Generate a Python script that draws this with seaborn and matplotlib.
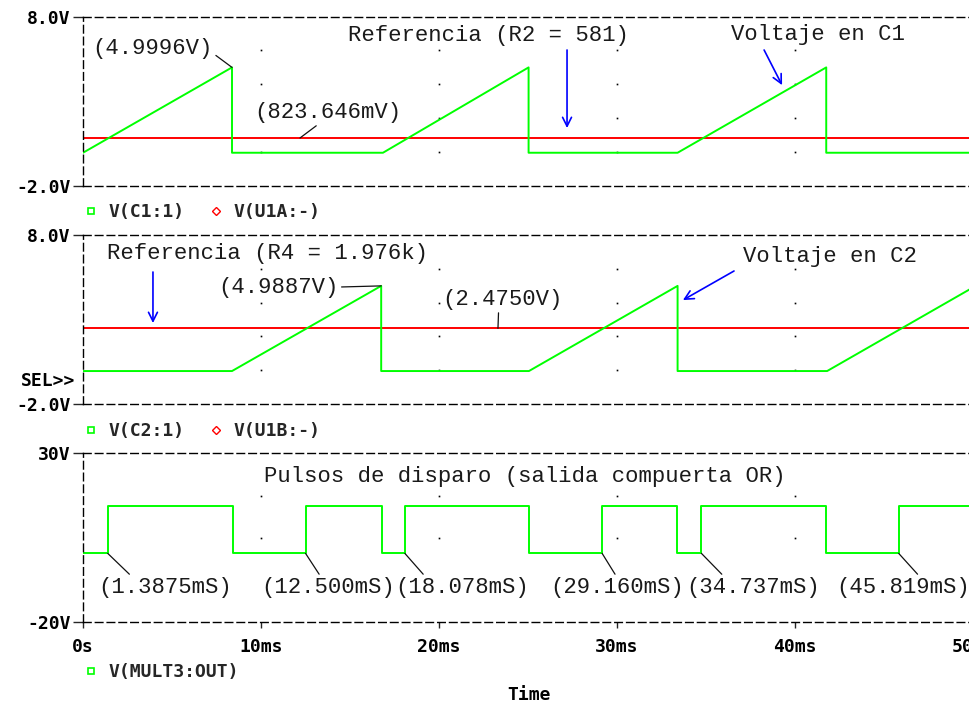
import matplotlib
matplotlib.use("Agg")
import matplotlib.pyplot as plt
from matplotlib.lines import Line2D
import seaborn as sns

# --- values (time in ms, volts) ---
c1_time = [0, 8.37, 8.37, 16.85, 25.03, 25.03, 33.40, 41.75, 41.75, 50.5]
c1_volt = [-0.05, 4.9996, -0.05, -0.05, 4.9996, -0.05, -0.05, 4.9996, -0.05, -0.05]
ref1 = 0.823646

c2_time = [0, 8.37, 16.75, 16.75, 25.05, 33.40, 33.40, 41.80, 50.0]
c2_volt = [-0.05, -0.05, 4.9887, -0.05, -0.05, 4.9887, -0.05, -0.05, 4.90]
ref2 = 2.4750

pulse_edges = [0, 1.3875, 8.40, 12.500, 16.78, 18.078, 25.05, 29.160, 33.38, 34.737, 41.75, 45.819, 50.5]
pulse_level = [0.4, 14.5, 0.4, 14.5, 0.4, 14.5, 0.4, 14.5, 0.4, 14.5, 0.4, 14.5, 14.5]
pulse_low = 0.4
rising = [1.3875, 12.500, 18.078, 29.160, 34.737, 45.819]
rising_labels = ["(1.3875mS)", "(12.500mS)", "(18.078mS)", "(29.160mS)", "(34.737mS)", "(45.819mS)"]

x_ticks = [0, 10, 20, 30, 40, 50]
x_ticklabels = ["0s", "10ms", "20ms", "30ms", "40ms", "50ms"]

GREEN = "#00ff00"
RED = "#ff0000"
BLUE = "#0000ff"
TXT = dict(family=["Liberation Mono", "DejaVu Sans Mono"], size=16, color="#1a1a1a")
BOLD = dict(family=["DejaVu Sans Mono"], size=13, weight="bold", color="black")
DASH = (0, (5.5, 3))

sns.set_style("white")
W, H = 969, 706
fig = plt.figure(figsize=(W / 100, H / 100), dpi=100)


def make_axes(top_px, ylim, yticklabels, dots_y):
    ax = fig.add_axes([83 / W, 1 - (top_px + 169) / H, 899 / W, 169 / H])
    ax.set_xlim(0, 50.5)
    ax.set_ylim(*ylim)
    for side in ["top", "bottom", "left"]:
        ax.spines[side].set_linestyle(DASH)
        ax.spines[side].set_linewidth(1.0)
        ax.spines[side].set_color("black")
    ax.spines["right"].set_visible(False)
    ax.set_yticks(list(ylim))
    ax.set_yticklabels(yticklabels, fontdict=BOLD)
    ax.tick_params(axis="y", direction="out", length=7, width=1, pad=2, left=True)
    ax.set_xticks([])
    # PSpice style grid dots
    for xv in x_ticks[1:-1]:
        ax.plot([xv] * len(dots_y), dots_y, ls="none", marker="s", ms=1.2, color="black", mew=0)
    ax.set_xlabel("")
    ax.set_ylabel("")
    return ax


leader = dict(arrowstyle="-", color="#111111", lw=0.9, shrinkA=0, shrinkB=0)
blue_arrow = dict(arrowstyle="->", color=BLUE, lw=1.2, mutation_scale=16, shrinkA=0, shrinkB=0)

# ---------------- panel 1: V(C1:1) ----------------
ax1 = make_axes(16.7, (-2, 8), ["-2.0V", "8.0V"], [0, 2, 4, 6])
ax1.axhline(ref1, color=RED, lw=1.4)
sns.lineplot(x=c1_time, y=c1_volt, estimator=None, sort=False, color=GREEN, lw=1.4, ax=ax1)
ax1.annotate("(4.9996V)", xy=(c1_time[1], c1_volt[1]), xytext=(3.9, 6.1),
             ha="center", va="center", arrowprops={**leader, "relpos": (1.0, 0.3)}, **TXT)
ax1.annotate("(823.646mV)", xy=(12.19, ref1), xytext=(13.76, 2.36),
             ha="center", va="center", arrowprops={**leader, "relpos": (0.45, 0.0)}, **TXT)
ax1.text(22.75, 6.86, "Referencia (R2 = 581)", ha="center", va="center", **TXT)
ax1.annotate("", xy=(27.19, 1.41), xytext=(27.19, 6.03), arrowprops=blue_arrow)
ax1.text(41.3, 6.92, "Voltaje en C1", ha="center", va="center", **TXT)
ax1.annotate("", xy=(39.27, 3.95), xytext=(38.26, 6.03), arrowprops=blue_arrow)

# ---------------- panel 2: V(C2:1) ----------------
ax2 = make_axes(235, (-2, 8), ["-2.0V", "8.0V"], [0, 2, 4, 6])
ax2.axhline(ref2, color=RED, lw=1.4)
sns.lineplot(x=c2_time, y=c2_volt, estimator=None, sort=False, color=GREEN, lw=1.4, ax=ax2)
ax2.text(10.39, 6.88, "Referencia (R4 = 1.976k)", ha="center", va="center", **TXT)
ax2.annotate("", xy=(3.93, 2.79), xytext=(3.93, 5.81), arrowprops=blue_arrow)
ax2.annotate("(4.9887V)", xy=(c2_time[2], c2_volt[2]), xytext=(10.96, 4.92),
             ha="center", va="center", arrowprops={**leader, "relpos": (1.0, 0.5)}, **TXT)
ax2.annotate("(2.4750V)", xy=(23.31, ref2), xytext=(23.55, 4.21),
             ha="center", va="center", arrowprops={**leader, "relpos": (0.47, 0.0)}, **TXT)
ax2.text(41.97, 6.7, "Voltaje en C2", ha="center", va="center", **TXT)
ax2.annotate("", xy=(33.7, 4.15), xytext=(36.57, 5.87), arrowprops=blue_arrow)
fig.text(75 / W, 1 - 381 / H, "SEL>>", ha="right", va="center", **BOLD)

# ---------------- panel 3: V(MULT3:OUT) ----------------
ax3 = make_axes(453.3, (-20, 30), ["-20V", "30V"], [5, 17.5])
sns.lineplot(x=pulse_edges, y=pulse_level, estimator=None, sort=False, color=GREEN, lw=1.4,
             drawstyle="steps-post", ax=ax3)
ax3.text(24.8, 23.0, "Pulsos de disparo (salida compuerta OR)", ha="center", va="center", **TXT)
label_x = [4.6, 13.76, 21.3, 30.0, 37.64, 46.07]
label_rel = [0.26, 0.45, 0.23, 0.5, 0.29, 0.63]
for t, lab, lx, rx in zip(rising, rising_labels, label_x, label_rel):
    ax3.annotate(lab, xy=(t, pulse_low), xytext=(lx, -9.85), ha="center", va="center",
                 arrowprops={**leader, "relpos": (rx, 1.0)}, **TXT)
ax3.set_xticks(x_ticks)
ax3.set_xticklabels(x_ticklabels, fontdict=BOLD)
ax3.tick_params(axis="x", direction="out", length=4, width=1, pad=7, bottom=True)
fig.text(529 / W, 1 - 695 / H, "Time", ha="center", va="center", **BOLD)

# ---------------- legends under each panel ----------------
sq = dict(ls="none", marker="s", ms=5, mfc="none", mew=1.2)
dm = dict(ls="none", marker="D", ms=4, mfc="none", mew=1.0)
legends = [
    (212, [Line2D([], [], mec=GREEN, **sq), Line2D([], [], mec=RED, **dm)], ["V(C1:1)", "V(U1A:-)"]),
    (431, [Line2D([], [], mec=GREEN, **sq), Line2D([], [], mec=RED, **dm)], ["V(C2:1)", "V(U1B:-)"]),
    (672, [Line2D([], [], mec=GREEN, **sq)], ["V(MULT3:OUT)"]),
]
for y_px, handles, labels in legends:
    fig.legend(handles, labels, loc="center left", bbox_to_anchor=(85 / W, 1 - y_px / H),
               ncol=len(labels), frameon=False, borderpad=0, borderaxespad=0,
               handlelength=0.7, handletextpad=0.6, columnspacing=1.4,
               prop={"family": "DejaVu Sans Mono", "size": 13, "weight": "bold"})

fig.savefig("out.png", dpi=100)
